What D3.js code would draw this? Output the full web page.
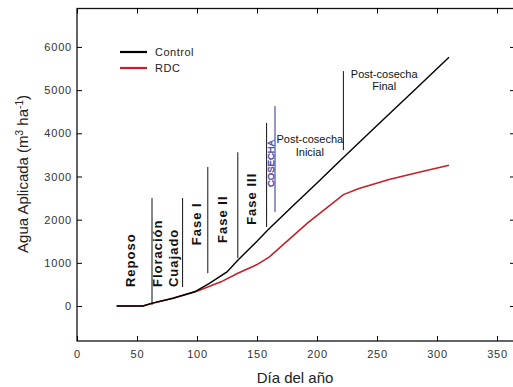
<!DOCTYPE html>
<html>
<head>
<meta charset="utf-8">
<script src="https://cdn.jsdelivr.net/npm/d3@7"></script>
<style>
  body { margin: 0; background: #fff; }
  svg { font-family: "Liberation Sans", Arial, sans-serif; }
</style>
</head>
<body>
<div id="chart"></div>
<script>
// days of year and cumulative applied water (m3/ha)
const controlDays = [33, 55, 62, 80, 98, 110, 125, 134, 150, 159, 180, 200, 222, 250, 280, 310];
const controlValues = [0, 0, 60, 180, 330, 520, 790, 1060, 1500, 1760, 2320, 2850, 3440, 4180, 4970, 5760];
const rdcDays = [33, 55, 62, 80, 100, 120, 134, 150, 160, 192, 222, 235, 260, 285, 310];
const rdcValues = [0, 0, 60, 180, 340, 560, 760, 960, 1130, 1920, 2580, 2720, 2930, 3100, 3260];

const xTicks = [0, 50, 100, 150, 200, 250, 300, 350];
const yTicks = [0, 1000, 2000, 3000, 4000, 5000, 6000];

// phase boundaries: day, top value, bottom value
const phaseDays = [62.5, 88, 109, 134, 158, 165, 222];
const phaseTops = [2500, 2500, 3220, 3560, 4240, 4630, 5440];
const phaseBottoms = [25, 440, 760, 1110, 1830, 2180, 3610];

const seriesNames = ["Control", "RDC"];
const colors = ["#000000", "#c3202a"];

const width = 513, height = 387;
const x = d3.scaleLinear().domain([0, 365]).range([77, 515]);
const y = d3.scaleLinear().domain([-810, 6890]).range([341, 8.5]);

const svg = d3.select("#chart").append("svg")
    .attr("width", width)
    .attr("height", height);

// frame
svg.append("rect")
    .attr("x", x(0)).attr("y", y(6890))
    .attr("width", x(365) - x(0)).attr("height", y(-810) - y(6890))
    .attr("fill", "none").attr("stroke", "#111").attr("stroke-width", 1.3);

const axisText = g => g.selectAll("text")
    .attr("fill", "#333").style("font-size", "11px").style("letter-spacing", "0.8px");

svg.append("g").attr("transform", `translate(0,${y(-810)})`)
    .call(d3.axisBottom(x).tickValues(xTicks).tickFormat(d3.format("d"))
        .tickSizeInner(-5).tickSizeOuter(0).tickPadding(9))
    .call(g => g.select(".domain").remove())
    .call(axisText);
svg.append("g").attr("transform", `translate(${x(0)},0)`)
    .call(d3.axisLeft(y).tickValues(yTicks).tickFormat(d3.format("d"))
        .tickSizeInner(-5).tickSizeOuter(0).tickPadding(5))
    .call(g => g.select(".domain").remove())
    .call(axisText);
svg.append("g").attr("transform", `translate(0,${y(6890)})`)
    .call(d3.axisTop(x).tickValues(xTicks).tickSizeInner(-5).tickSizeOuter(0).tickFormat(""))
    .call(g => g.select(".domain").remove());
svg.append("g").attr("transform", `translate(${x(365)},0)`)
    .call(d3.axisRight(y).tickValues(yTicks).tickSizeInner(-5).tickSizeOuter(0).tickFormat(""))
    .call(g => g.select(".domain").remove());

// axis titles
svg.append("text")
    .attr("x", 295).attr("y", 383)
    .attr("text-anchor", "middle")
    .style("font-size", "15px").attr("fill", "#222")
    .text("Día del año");

const yTitle = svg.append("text")
    .attr("transform", "translate(28,174) rotate(-90)")
    .attr("text-anchor", "middle")
    .style("font-size", "15px").attr("fill", "#222");
yTitle.append("tspan").text("Agua Aplicada (m");
yTitle.append("tspan").attr("dy", -5).style("font-size", "10px").text("3");
yTitle.append("tspan").attr("dy", 5).text(" ha");
yTitle.append("tspan").attr("dy", -5).style("font-size", "10px").text("-1");
yTitle.append("tspan").attr("dy", 5).text(")");

// phase lines
phaseDays.forEach((d, i) => {
    svg.append("line")
        .attr("x1", x(d)).attr("x2", x(d))
        .attr("y1", y(phaseTops[i])).attr("y2", y(phaseBottoms[i]))
        .attr("stroke", i === 5 ? "#2a2d9c" : "#111")
        .attr("stroke-width", 1);
});

// curves
const line = d3.line().x(d => x(d[0])).y(d => y(d[1]));
svg.append("path")
    .datum(rdcDays.map((d, i) => [d, rdcValues[i]]))
    .attr("d", line).attr("fill", "none")
    .attr("stroke", colors[1]).attr("stroke-width", 1.6);
svg.append("path")
    .datum(controlDays.map((d, i) => [d, controlValues[i]]))
    .attr("d", line).attr("fill", "none")
    .attr("stroke", colors[0]).attr("stroke-width", 1.4);

// rotated phase labels (anchor: day of baseline, value of text start)
const phaseLabels = [
    { text: "Reposo", day: 48.5, val: 440 },
    { text: "Floración", day: 70.5, val: 440 },
    { text: "Cuajado", day: 84, val: 440 },
    { text: "Fase I", day: 103.3, val: 1410 },
    { text: "Fase II", day: 125, val: 1460 },
    { text: "Fase III", day: 149.2, val: 1880 }
];
phaseLabels.forEach(l => {
    svg.append("text")
        .attr("transform", `translate(${x(l.day)},${y(l.val)}) rotate(-90)`)
        .style("font-size", "13px").style("font-weight", "bold")
        .style("letter-spacing", "1px")
        .attr("fill", "#111")
        .text(l.text);
});

svg.append("text")
    .attr("transform", `translate(${x(164)},${y(2756)}) rotate(-90)`)
    .style("font-size", "9.5px")
    .attr("fill", "#7c82d6").attr("stroke", "#2a2d9c").attr("stroke-width", 0.4)
    .text("COSECHA");

const postLabels = [
    { lines: ["Post-cosecha", "Inicial"], day: 194, val: 3775 },
    { lines: ["Post-cosecha", "Final"], day: 256, val: 5290 }
];
postLabels.forEach(l => {
    const t = svg.append("text")
        .attr("x", x(l.day)).attr("y", y(l.val))
        .attr("text-anchor", "middle")
        .style("font-size", "11px").attr("fill", "#111");
    l.lines.forEach((s, i) => {
        t.append("tspan").attr("x", x(l.day)).attr("dy", i ? 12.5 : 0).text(s);
    });
});

// legend
seriesNames.forEach((name, i) => {
    const ly = 52 + i * 16;
    svg.append("line")
        .attr("x1", 120).attr("x2", 147).attr("y1", ly).attr("y2", ly)
        .attr("stroke", colors[i]).attr("stroke-width", 2.2);
    svg.append("text")
        .attr("x", 155).attr("y", ly + 4)
        .style("font-size", "11px").style("letter-spacing", "0.5px")
        .attr("fill", "#222")
        .text(name);
});
</script>
</body>
</html>
